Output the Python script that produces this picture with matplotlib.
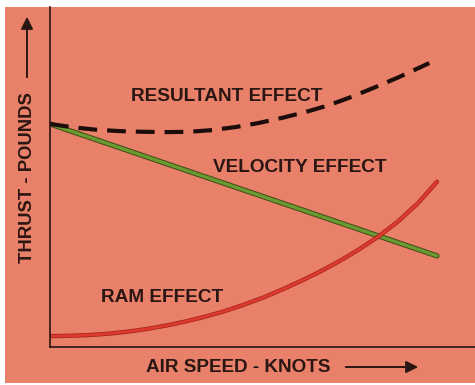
import numpy as np
import matplotlib
matplotlib.use("Agg")
import matplotlib.pyplot as plt
import matplotlib.patheffects as pe
from matplotlib.patches import Rectangle, FancyArrowPatch

# airspeed in arbitrary units, thrust in arbitrary units
velocity_x = [0, 100]
velocity_y = [65.6, 26.8]

ram_x = [0, 5, 10, 15, 20, 25, 30, 35, 40, 45, 50, 55, 60, 65, 70, 75, 80, 85, 90, 95, 100]
ram_y = [3.2, 3.3, 3.5, 3.9, 4.5, 5.3, 6.3, 7.5, 8.9, 10.5, 12.4, 14.5, 16.9, 19.5,
         22.3, 25.4, 28.8, 32.6, 37.0, 42.2, 48.6]

resultant_x = [0, 6, 12, 18, 24, 30, 36, 42, 48, 54, 60, 66, 72, 78, 84, 90, 98]
resultant_y = [65.6, 64.6, 63.9, 63.5, 63.3, 63.2, 63.3, 63.8, 64.7, 65.9, 67.4, 69.1,
               71.1, 73.6, 76.4, 79.3, 83.5]

labels = ["RESULTANT EFFECT", "VELOCITY EFFECT", "RAM EFFECT"]
label_pos = [(45.7, 73.8), (64.6, 52.9), (29.0, 14.7)]

bg = "#E98069"
ink = "#2a1612"
plt.rcParams['font.family'] = ['Liberation Sans', 'DejaVu Sans']

W, H = 475, 385
fig = plt.figure(figsize=(W / 100, H / 100), dpi=100, facecolor="white")
# salmon card behind everything
fig.patches.append(Rectangle((5 / W, 2 / H), 1 - 5 / W, 1 - 9 / H,
                             transform=fig.transFigure, facecolor=bg,
                             edgecolor="none", zorder=-10))

ax = fig.add_axes([50 / W, 38 / H, 425 / W, 340 / H])
ax.set_facecolor("none")
ax.set_xlim(0, 425 / 3.87)
ax.set_ylim(0, 100)
for s in ["top", "right"]:
    ax.spines[s].set_visible(False)
for s in ["left", "bottom"]:
    ax.spines[s].set_color(ink)
    ax.spines[s].set_linewidth(1.2)
ax.set_xticks([])
ax.set_yticks([])

ax.plot(velocity_x, velocity_y, color="#6a9a30", lw=2.4, solid_capstyle="round",
        path_effects=[pe.Stroke(linewidth=3.8, foreground="#3f4a16"), pe.Normal()])
ax.plot(ram_x, ram_y, color="#dc3a2c", lw=2.0, solid_capstyle="round",
        solid_joinstyle="round",
        path_effects=[pe.Stroke(linewidth=3.1, foreground="#a8231c"), pe.Normal()])
ax.plot(resultant_x, resultant_y, color="#1c0c0a", lw=3.0, linestyle=(0, (4.5, 2.4)),
        dash_capstyle="butt")

for txt, (x, y) in zip(labels, label_pos):
    ax.text(x, y, txt, ha="center", va="center", fontsize=13.7,
            fontweight="bold", color=ink)

# axis titles with their arrows
fig.text(238 / W, 1 - 367 / H, "AIR SPEED - KNOTS", ha="center", va="center",
         fontsize=13.6, fontweight="bold", color=ink)
fig.text(28 / W, 1 - 178 / H, "THRUST - POUNDS", ha="center", va="center",
         rotation=90, fontsize=13.3, fontweight="bold", color=ink)

fig.patches.append(FancyArrowPatch((343 / W, 1 - 367 / H), (421 / W, 1 - 367 / H),
                                   transform=fig.transFigure, arrowstyle="-|>",
                                   mutation_scale=18, color=ink, lw=1.4))
fig.patches.append(FancyArrowPatch((27 / W, 1 - 80 / H), (27 / W, 1 - 14 / H),
                                   transform=fig.transFigure, arrowstyle="-|>",
                                   mutation_scale=18, color=ink, lw=1.4))

fig.savefig("out.png", dpi=100, facecolor="white")
